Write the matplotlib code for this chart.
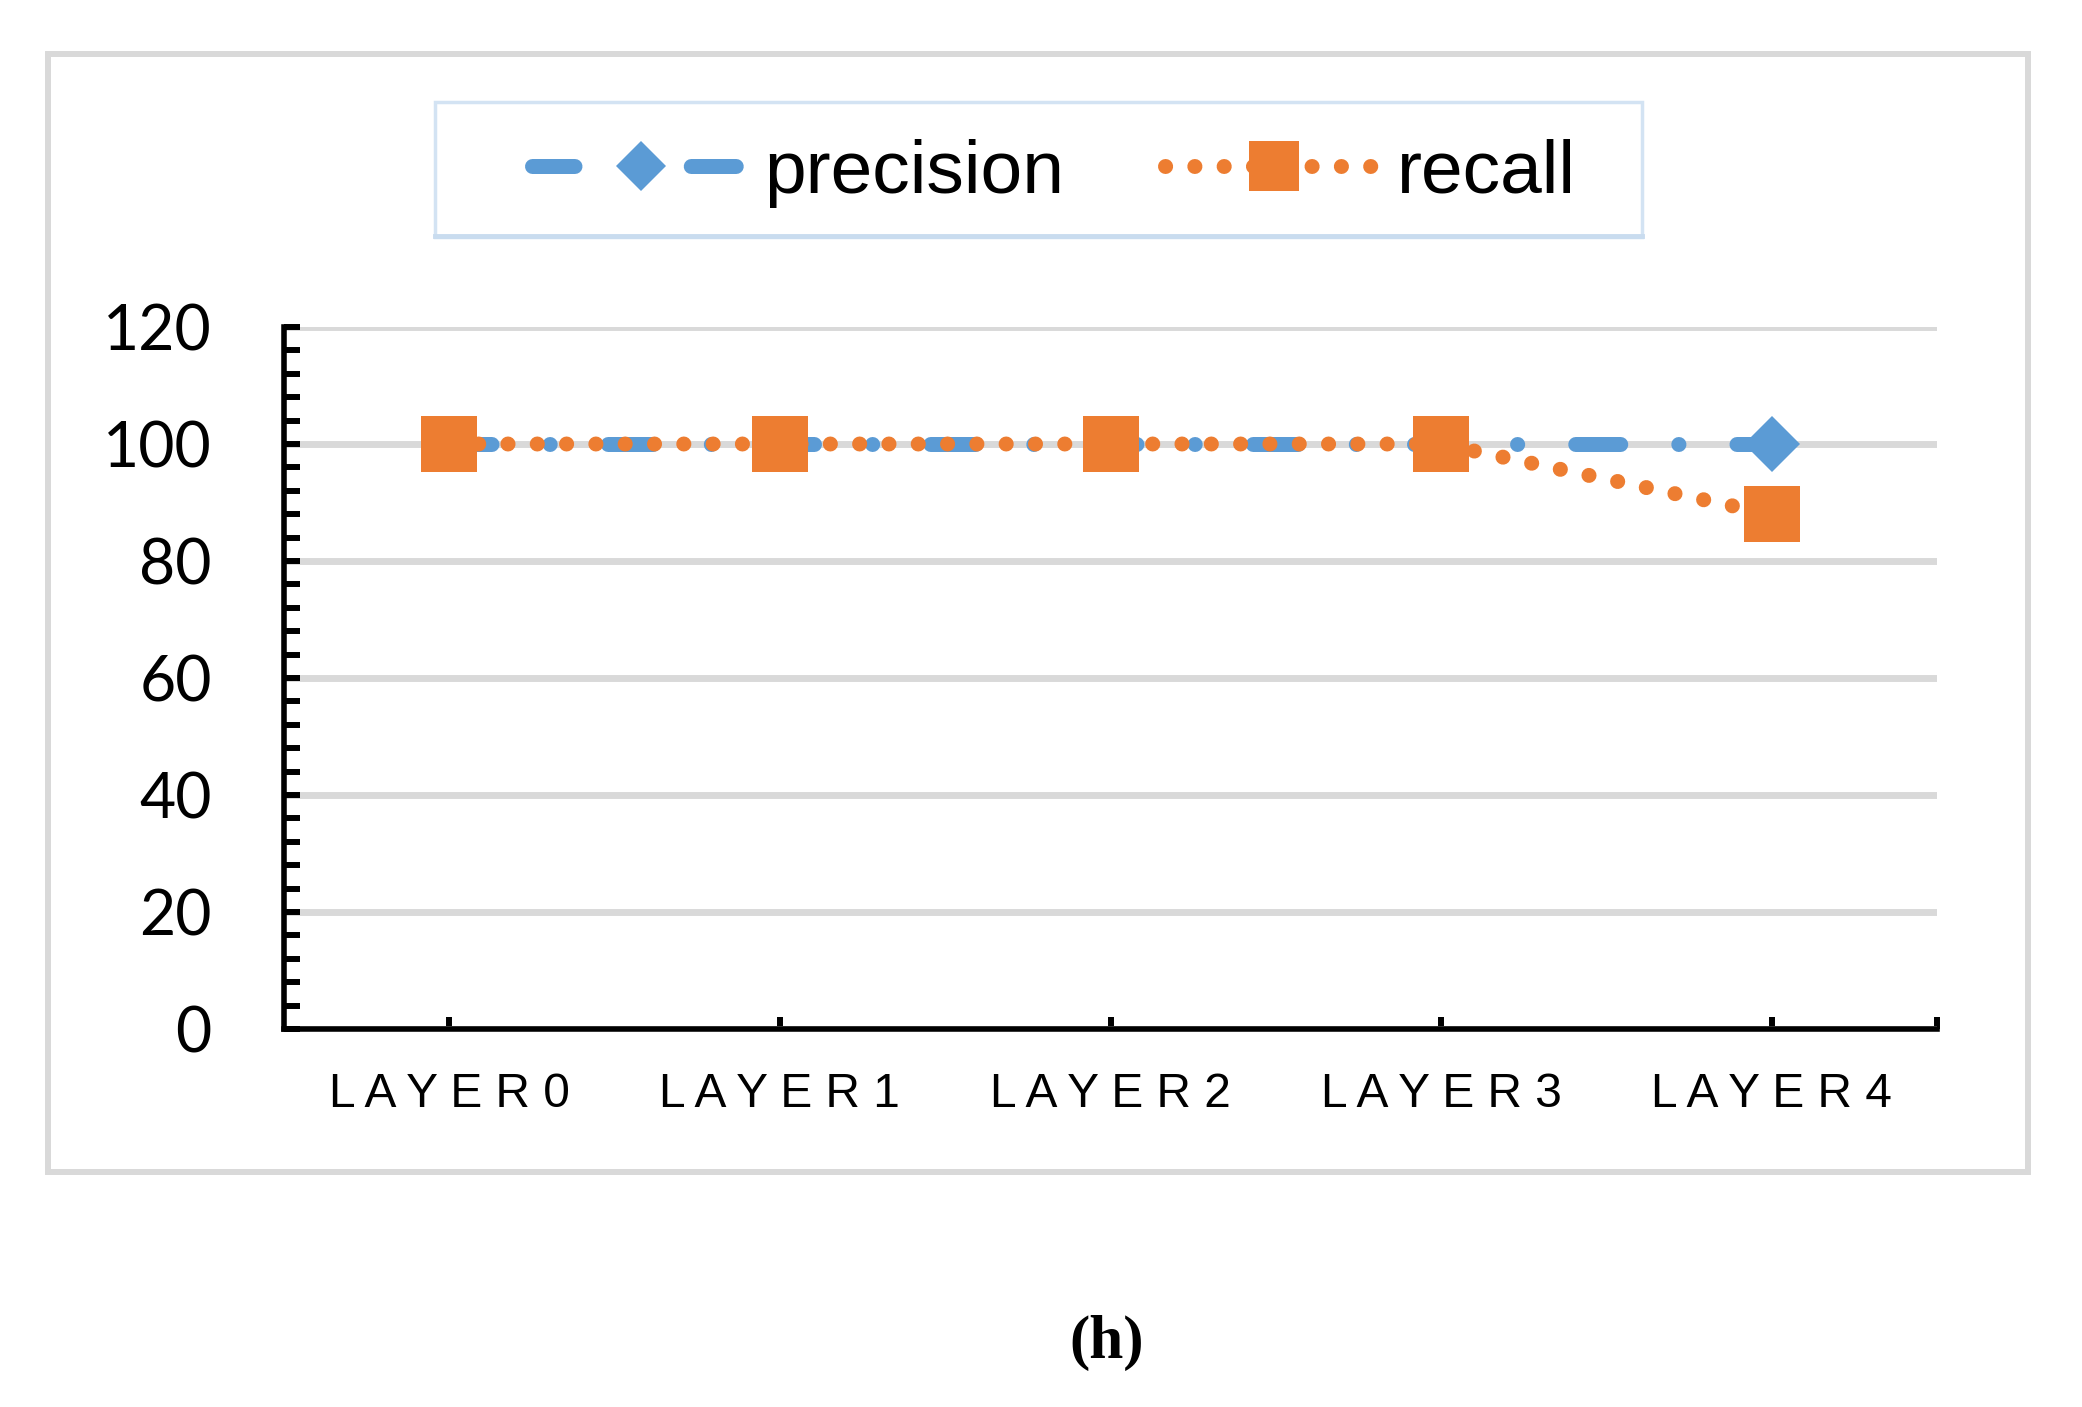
import matplotlib
matplotlib.use('Agg')
import matplotlib.pyplot as plt
from matplotlib.patches import Rectangle
from matplotlib.ticker import MultipleLocator

# data
categories = ['LAYER0', 'LAYER1', 'LAYER2', 'LAYER3', 'LAYER4']
precision = [100, 100, 100, 100, 100]
recall = [100, 100, 100, 100, 88]
y_ticks = [0, 20, 40, 60, 80, 100, 120]

blue = '#5b9bd5'
orange = '#ed7d31'
grid_gray = '#d9d9d9'

plt.rcParams['lines.scale_dashes'] = False
plt.rcParams['font.family'] = ['Liberation Sans', 'DejaVu Sans']

W, H = 2082, 1407
fig = plt.figure(figsize=(W / 100, H / 100), dpi=100)

def px_x(v):
    return v / W

def px_y(v):
    return 1 - v / H

# axes box in pixels: x 284..1937, y 327..1029
ax = fig.add_axes([px_x(284), px_y(1029), px_x(1937 - 284), (1029 - 327) / H])

x = list(range(len(categories)))
lw = 10.8  # ~15 px

ax.plot(x, precision, color=blue, lw=lw, solid_capstyle='round', dash_capstyle='round',
        linestyle=(1.8, (32.4, 41.8, 0.1, 41.8)),
        marker='D', markersize=29, markeredgewidth=0, markerfacecolor=blue,
        label='precision', zorder=3, clip_on=False)
ax.plot(x, recall, color=orange, lw=lw, dash_capstyle='round',
        linestyle=(0, (0.1, 21.0)),
        marker='s', markersize=41, markeredgewidth=0, markerfacecolor=orange,
        label='recall', zorder=4, clip_on=False)

ax.set_xlim(-0.5, len(categories) - 0.5)
ax.set_ylim(0, 120)

for side in ['top', 'right']:
    ax.spines[side].set_visible(False)
for side in ['left', 'bottom']:
    ax.spines[side].set_linewidth(4)
    ax.spines[side].set_color('black')

ax.set_yticks(y_ticks)
ax.set_yticklabels([str(v) for v in y_ticks], fontfamily='Lato', fontsize=45)
ax.yaxis.set_minor_locator(MultipleLocator(4))
ax.tick_params(axis='y', which='both', direction='in', length=11.5, width=4.3,
               color='black', pad=52)

ax.set_xticks(x)
ax.set_xticklabels([' '.join(c) for c in categories], fontfamily='Liberation Sans', fontsize=34.5)
ax.set_xticks([len(categories) - 0.5], minor=True)
ax.tick_params(axis='x', which='both', direction='in', length=9, width=4.3,
               color='black', pad=31)

ax.set_axisbelow(True)
ax.yaxis.grid(True, which='major', color=grid_gray, lw=5)
ax.xaxis.grid(False)

# legend, frame drawn separately
leg = ax.legend(loc='center', bbox_to_anchor=(px_x(1054), px_y(173)),
                bbox_transform=fig.transFigure, ncol=2, frameon=False,
                prop={'family': 'Liberation Sans', 'size': 54},
                handlelength=2.92, handletextpad=0.18, columnspacing=1.34)
leg.legend_handles[0].set_markersize(25)
leg.legend_handles[1].set_markersize(36)

fig.add_artist(Rectangle((px_x(435), px_y(237)), px_x(1642 - 435), (237 - 102) / H,
                         transform=fig.transFigure, fill=False,
                         ec='#d3e3f3', lw=2.5))
fig.add_artist(plt.Line2D([px_x(435), px_x(1642)], [px_y(236), px_y(236)],
                          transform=fig.transFigure, color='#c9dcef', lw=3.5))

# outer chart border
fig.add_artist(Rectangle((px_x(48), px_y(1172)), px_x(2028 - 48), (1172 - 54) / H,
                         transform=fig.transFigure, fill=False,
                         ec=grid_gray, lw=4.3))

fig.text(px_x(1107), px_y(1343), '(h)', ha='center', va='center',
         fontfamily='Liberation Serif', fontweight='bold', fontsize=44)

fig.savefig('out.png', dpi=100, facecolor='white')
